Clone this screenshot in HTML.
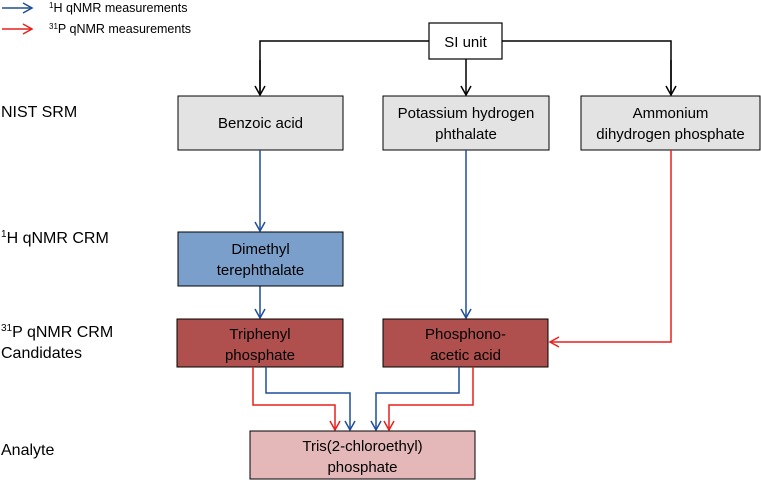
<!DOCTYPE html>
<html><head><meta charset="utf-8"><style>
body{margin:0;background:#fff;}
svg text{font-family:"Liberation Sans",Arial,sans-serif;}
</style></head><body>
<svg width="761" height="480" viewBox="0 0 761 480" xmlns="http://www.w3.org/2000/svg">
<defs>
<marker id="ak" markerWidth="12" markerHeight="12" refX="10" refY="6" orient="auto" markerUnits="userSpaceOnUse"><path d="M1,1 L10,6 L1,11" fill="none" stroke="#000" stroke-width="1.5"/></marker>
<marker id="ab" markerWidth="12" markerHeight="12" refX="10" refY="6" orient="auto" markerUnits="userSpaceOnUse"><path d="M1,1 L10,6 L1,11" fill="none" stroke="#1f4e9a" stroke-width="1.5"/></marker>
<marker id="ar" markerWidth="12" markerHeight="12" refX="10" refY="6" orient="auto" markerUnits="userSpaceOnUse"><path d="M1,1 L10,6 L1,11" fill="none" stroke="#e8201c" stroke-width="1.5"/></marker>
</defs>
<line x1="2" y1="8" x2="32" y2="8" stroke="#1f4e9a" stroke-width="1.5" marker-end="url(#ab)"/>
<line x1="2" y1="29" x2="32" y2="29" stroke="#e8201c" stroke-width="1.5" marker-end="url(#ar)"/>
<text x="49" y="12" font-size="12.5"><tspan font-size="8" dy="-4">1</tspan><tspan dy="4">H qNMR measurements</tspan></text>
<text x="49" y="33" font-size="12.5"><tspan font-size="8" dy="-4">31</tspan><tspan dy="4">P qNMR measurements</tspan></text>
<text x="1" y="117" font-size="16">NIST SRM</text>
<text x="1" y="243" font-size="16"><tspan font-size="10" dy="-6">1</tspan><tspan dy="6">H qNMR CRM</tspan></text>
<text x="1" y="337" font-size="16"><tspan font-size="10" dy="-6">31</tspan><tspan dy="6">P qNMR CRM</tspan></text>
<text x="1" y="358" font-size="16">Candidates</text>
<text x="1" y="455" font-size="16">Analyte</text>
<polyline points="260,94 260,41 671,41 671,94" fill="none" stroke="#000" stroke-width="1.5"/>
<line x1="260" y1="60" x2="260" y2="95" stroke="#000" stroke-width="1.5" marker-end="url(#ak)"/>
<line x1="671" y1="60" x2="671" y2="95" stroke="#000" stroke-width="1.5" marker-end="url(#ak)"/>
<line x1="466" y1="59" x2="466" y2="95" stroke="#000" stroke-width="1.5" marker-end="url(#ak)"/>
<rect x="429" y="23" width="73" height="36" fill="#fff" stroke="#000" stroke-width="1.2"/>
<text x="465.5" y="47" font-size="15" text-anchor="middle">SI unit</text>
<rect x="178" y="96" width="165" height="54" fill="#e3e3e3" stroke="#000" stroke-width="1"/>
<text x="260.5" y="128" font-size="15" text-anchor="middle">Benzoic acid</text>
<rect x="383" y="96" width="166" height="54" fill="#e3e3e3" stroke="#000" stroke-width="1"/>
<text x="466" y="118" font-size="15" text-anchor="middle">Potassium hydrogen</text>
<text x="466" y="139" font-size="15" text-anchor="middle">phthalate</text>
<rect x="581" y="96" width="179" height="54" fill="#e3e3e3" stroke="#000" stroke-width="1"/>
<text x="670.5" y="118" font-size="15" text-anchor="middle">Ammonium</text>
<text x="670.5" y="139" font-size="15" text-anchor="middle">dihydrogen phosphate</text>
<line x1="260" y1="150" x2="260" y2="231" stroke="#1f4e9a" stroke-width="1.5" marker-end="url(#ab)"/>
<line x1="260" y1="286" x2="260" y2="318" stroke="#1f4e9a" stroke-width="1.5" marker-end="url(#ab)"/>
<line x1="466" y1="150" x2="466" y2="318" stroke="#1f4e9a" stroke-width="1.5" marker-end="url(#ab)"/>
<polyline points="671,150 671,342 550,342" fill="none" stroke="#e8201c" stroke-width="1.5" marker-end="url(#ar)"/>
<rect x="178" y="232" width="165" height="54" fill="#7b9fcb" stroke="#000" stroke-width="1"/>
<text x="260.5" y="254" font-size="15" text-anchor="middle">Dimethyl</text>
<text x="260.5" y="275" font-size="15" text-anchor="middle">terephthalate</text>
<rect x="177" y="319" width="166" height="48" fill="#b0504e" stroke="#000" stroke-width="1"/>
<text x="260" y="339" font-size="15" text-anchor="middle">Triphenyl</text>
<text x="260" y="360" font-size="15" text-anchor="middle">phosphate</text>
<rect x="383" y="319" width="165" height="48" fill="#b0504e" stroke="#000" stroke-width="1"/>
<text x="465.5" y="339" font-size="15" text-anchor="middle">Phosphono-</text>
<text x="465.5" y="360" font-size="15" text-anchor="middle">acetic acid</text>
<polyline points="253,367 253,405 335,405 335,430" fill="none" stroke="#e8201c" stroke-width="1.5" marker-end="url(#ar)"/>
<polyline points="266,367 266,393 350,393 350,430" fill="none" stroke="#1f4e9a" stroke-width="1.5" marker-end="url(#ab)"/>
<polyline points="459,367 459,393 376,393 376,430" fill="none" stroke="#1f4e9a" stroke-width="1.5" marker-end="url(#ab)"/>
<polyline points="473,367 473,405 389,405 389,430" fill="none" stroke="#e8201c" stroke-width="1.5" marker-end="url(#ar)"/>
<rect x="250" y="431" width="225" height="48" fill="#e4b8b8" stroke="#000" stroke-width="1"/>
<text x="362.5" y="451" font-size="15" text-anchor="middle">Tris(2-chloroethyl)</text>
<text x="362.5" y="472" font-size="15" text-anchor="middle">phosphate</text>
</svg>
</body></html>
